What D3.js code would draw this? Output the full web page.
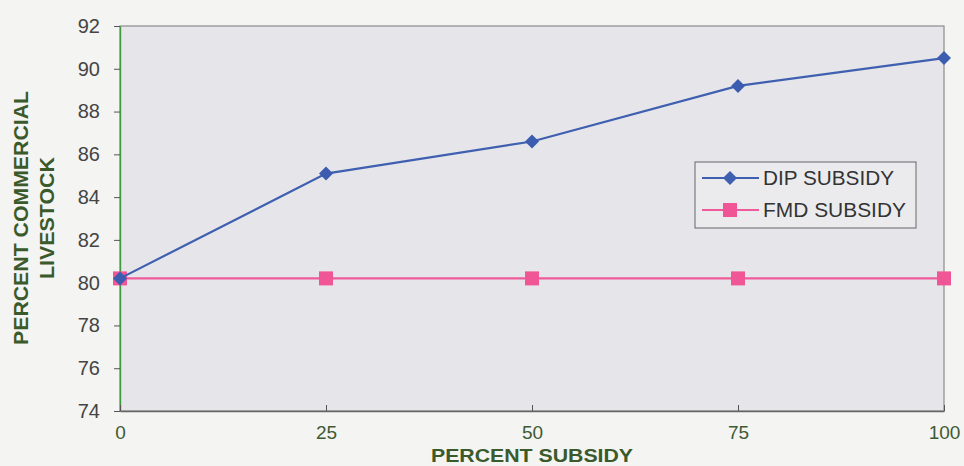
<!DOCTYPE html>
<html>
<head>
<meta charset="utf-8">
<script src="https://cdn.jsdelivr.net/npm/d3@7/dist/d3.min.js"></script>
<style>
  html, body { margin: 0; padding: 0; background: #f4f4f2; }
  svg { display: block; }
</style>
</head>
<body>
<svg id="chart" width="964" height="466"></svg>
<script>
// Percent subsidy levels (x axis)
const subsidy = [0, 25, 50, 75, 100];
// Percent commercial livestock for each subsidy programme
const dipSubsidy = [80.2, 85.1, 86.6, 89.2, 90.5];
const fmdSubsidy = [80.2, 80.2, 80.2, 80.2, 80.2];
const yTicks = [74, 76, 78, 80, 82, 84, 86, 88, 90, 92];
const seriesNames = ["DIP SUBSIDY", "FMD SUBSIDY"];

const svg = d3.select("#chart");
const m = { left: 120, right: 944, top: 26, bottom: 411 };
const font = "'Liberation Sans', Arial, sans-serif";

const x = d3.scaleLinear().domain([0, 100]).range([m.left, m.right]);
const y = d3.scaleLinear().domain([74, 92]).range([m.bottom, m.top]);

// plot area
svg.append("rect")
  .attr("x", m.left).attr("y", m.top)
  .attr("width", m.right - m.left).attr("height", m.bottom - m.top)
  .attr("fill", "#e6e6ea")
  .attr("stroke", "#8a8a8a").attr("stroke-width", 1.2);

// y axis
const yAxis = svg.append("g")
  .attr("transform", `translate(${m.left},0)`)
  .call(d3.axisLeft(y).tickValues(yTicks).tickSize(6).tickSizeOuter(0).tickPadding(14));
yAxis.select(".domain").attr("stroke", "#3f9a3a").attr("stroke-width", 1.4);
yAxis.selectAll(".tick line").attr("stroke", "#555");
yAxis.selectAll(".tick text")
  .attr("fill", "#444")
  .style("font-family", font)
  .style("font-size", "20px");

// x axis
const xAxis = svg.append("g")
  .attr("transform", `translate(0,${m.bottom})`)
  .call(d3.axisBottom(x).tickValues(subsidy).tickSize(6).tickSizeOuter(0).tickPadding(9));
xAxis.select(".domain").attr("stroke", "#666").attr("stroke-width", 1.4);
xAxis.selectAll(".tick line").attr("stroke", "#555").attr("y1", -6).attr("y2", 0);
xAxis.selectAll(".tick text")
  .attr("fill", "#3e5a34")
  .style("font-family", font)
  .style("font-size", "19px");

// axis titles
svg.append("text")
  .attr("x", x(50)).attr("y", 462)
  .attr("text-anchor", "middle")
  .attr("fill", "#3b5a2c")
  .attr("textLength", 202).attr("lengthAdjust", "spacingAndGlyphs")
  .style("font-family", font).style("font-size", "19px").style("font-weight", "bold")
  .text("PERCENT SUBSIDY");

const yTitle = svg.append("text")
  .attr("transform", "translate(0,218) rotate(-90)")
  .attr("text-anchor", "middle")
  .attr("fill", "#3b5a2c")
  .style("font-family", font).style("font-size", "20px").style("font-weight", "bold");
yTitle.append("tspan").attr("x", 0).attr("y", 28)
  .attr("textLength", 254).attr("lengthAdjust", "spacingAndGlyphs")
  .text("PERCENT COMMERCIAL");
yTitle.append("tspan").attr("x", 0).attr("y", 54)
  .attr("textLength", 122).attr("lengthAdjust", "spacingAndGlyphs")
  .text("LIVESTOCK");

const line = d3.line().x((d, i) => x(subsidy[i])).y(d => y(d));

// FMD series (pink squares)
svg.append("path").datum(fmdSubsidy)
  .attr("d", line).attr("fill", "none")
  .attr("stroke", "#ef5a9a").attr("stroke-width", 2.2);
svg.selectAll(".fmd").data(fmdSubsidy).join("rect")
  .attr("class", "fmd")
  .attr("x", (d, i) => x(subsidy[i]) - 7).attr("y", d => y(d) - 7)
  .attr("width", 14).attr("height", 14)
  .attr("fill", "#f05596");

// DIP series (blue diamonds)
svg.append("path").datum(dipSubsidy)
  .attr("d", line).attr("fill", "none")
  .attr("stroke", "#3f5fb0").attr("stroke-width", 2.2);
svg.selectAll(".dip").data(dipSubsidy).join("path")
  .attr("class", "dip")
  .attr("transform", (d, i) => `translate(${x(subsidy[i])},${y(d)})`)
  .attr("d", "M0,-7L7,0L0,7L-7,0Z")
  .attr("fill", "#3c5cb0");

// legend
const lg = svg.append("g").attr("transform", "translate(695,162)");
lg.append("rect").attr("width", 221).attr("height", 66)
  .attr("fill", "#ebebee").attr("stroke", "#666").attr("stroke-width", 1);
const legendColors = ["#3f5fb0", "#ef5a9a"];
const legendWidths = [131, 143];
seriesNames.forEach((name, i) => {
  const cy = 16 + i * 32;
  lg.append("line").attr("x1", 7).attr("x2", 64).attr("y1", cy).attr("y2", cy)
    .attr("stroke", legendColors[i]).attr("stroke-width", 2.2);
  if (i === 0) {
    lg.append("path").attr("transform", `translate(35,${cy})`)
      .attr("d", "M0,-7L7,0L0,7L-7,0Z").attr("fill", legendColors[i]);
  } else {
    lg.append("rect").attr("x", 28).attr("y", cy - 7).attr("width", 14).attr("height", 14)
      .attr("fill", "#f05596");
  }
  lg.append("text").attr("x", 68).attr("y", cy + 7)
    .attr("fill", "#333")
    .attr("textLength", legendWidths[i]).attr("lengthAdjust", "spacingAndGlyphs")
    .style("font-family", font).style("font-size", "20px")
    .text(name);
});
</script>
</body>
</html>
